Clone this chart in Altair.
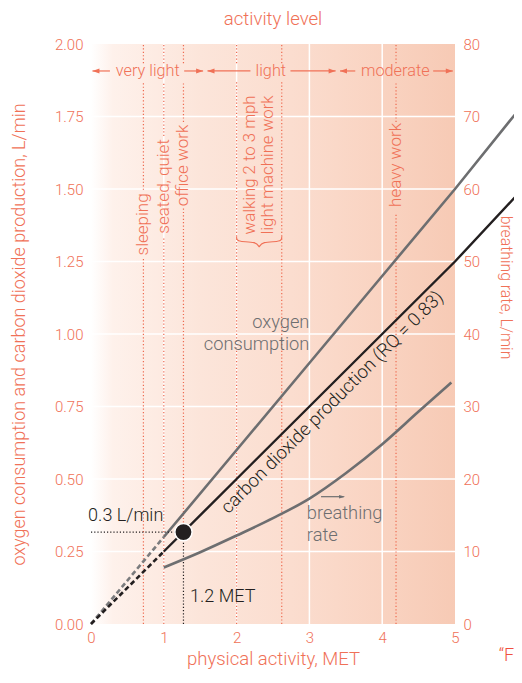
import altair as alt
import pandas as pd

FONT = "Roboto"
FW = 300
SALMON = "#F07157"
DARK = "#231F20"
GRAY = "#6D6E70"

# ---------------- data ----------------
x_ticks = [0, 1, 2, 3, 4, 5]
yl_ticks = [0, 0.25, 0.5, 0.75, 1.0, 1.25, 1.5, 1.75, 2.0]
yr_ticks = [0, 10, 20, 30, 40, 50, 60, 70, 80]
grid_x = [1, 2, 3, 4]
grid_y = [0.25, 0.5, 0.75, 1.0, 1.25, 1.5, 1.75]

o2_met = [0, 1, 2, 3, 4, 5, 5.93]
o2_lpm = [0, 0.30, 0.60, 0.90, 1.20, 1.50, 1.79]
co2_met = [0, 1, 2, 3, 4, 5, 5.93]
co2_lpm = [0, 0.25, 0.50, 0.75, 1.00, 1.25, 1.50]
br_met = [1.0, 1.5, 2.0, 2.5, 3.0, 3.5, 4.0, 4.5, 4.95]
br_lpm = [7.8, 9.9, 12.2, 14.6, 17.3, 20.8, 24.8, 29.3, 33.3]

rest_met = [1.27]
rest_lpm = [0.317]

act_names = ["sleeping", "seated, quiet", "office work", "heavy work"]
act_met = [0.72, 1.0, 1.27, 4.19]
act_label_y = [1.378, 1.509, 1.581, 1.583]
act_gap_lo = [1.266, 1.334, 1.434, 1.417]
act_gap_hi = [1.497, 1.683, 1.731, 1.731]
act_bottom = [0.0, 0.0, 0.35, 0.0]
walk_met = [2.0, 2.62]
walk_label = "walking 2 to 3 mph\nlight machine work"
walk_label_x = [2.185]
walk_label_y = [1.583]
band_row_y = 1.907
band_gap = [1.869, 1.934]

band_names = ["very light", "light", "moderate"]
band_start = [0.02, 1.60, 3.42]
band_end = [1.54, 3.36, 4.97]
band_label_x = [0.78, 2.47, 4.18]
band_gap_lo = [0.26, 2.19, 3.63]
band_gap_hi = [1.28, 2.74, 4.70]

brace_x = [2.0, 2.0, 2.04, 2.27, 2.31, 2.31, 2.35, 2.58, 2.62, 2.62]
brace_y = [1.336, 1.325, 1.318, 1.318, 1.300, 1.300, 1.318, 1.318, 1.325, 1.336]

# ---------------- scales / axes ----------------
xs = alt.Scale(domain=[0, 5], nice=False, zero=False)
yls = alt.Scale(domain=[0, 2], nice=False, zero=False)
yrs = alt.Scale(domain=[0, 80], nice=False, zero=False)

x_axis = alt.Axis(values=x_ticks, format="d", ticks=False, domain=False, grid=False,
                  labelColor=SALMON, labelFontSize=15, labelFontWeight=FW, labelPadding=6,
                  labelFlush=False, labelOverlap=False,
                  title="physical activity, MET", titleColor=SALMON, titleFontSize=18.5,
                  titleFontWeight=FW, titleX=182, titleY=34,
                  titleAlign="center", titleBaseline="middle")
yl_axis = alt.Axis(values=yl_ticks, format=".2f", ticks=False, domain=False, grid=False,
                   labelColor=SALMON, labelFontSize=15, labelFontWeight=FW, labelPadding=8,
                   labelOverlap=False,
                   title="oxygen consumption and carbon dioxide production, L/min",
                   titleColor=SALMON, titleFontSize=18, titleFontWeight=FW,
                   titleAngle=270, titleX=-72, titleY=290, titleAlign="center",
                   titleBaseline="middle")
yr_axis = alt.Axis(orient="right", values=yr_ticks, ticks=False, domain=False, grid=False,
                   labelColor=SALMON, labelFontSize=15, labelFontWeight=FW, labelPadding=8,
                   labelOverlap=False,
                   title="breathing rate, L/min", titleColor=SALMON, titleFontSize=15.8,
                   titleFontWeight=FW, titleAngle=90, titleX=50, titleY=243,
                   titleAlign="center", titleBaseline="middle")


def X(f="x"):
    return alt.X(f"{f}:Q", scale=xs, axis=x_axis)


def YL(f="y"):
    return alt.Y(f"{f}:Q", scale=yls, axis=yl_axis)


# ---------------- background ----------------
grad = alt.LinearGradient(
    gradient="linear",
    stops=[
        alt.GradientStop(offset=0.0, color="#FFFFFF"),
        alt.GradientStop(offset=0.06, color="#FEF1EB"),
        alt.GradientStop(offset=0.3, color="#FCE5DA"),
        alt.GradientStop(offset=0.55, color="#FBDDCF"),
        alt.GradientStop(offset=0.8, color="#F9D3C1"),
        alt.GradientStop(offset=1.0, color="#F7CAB5"),
    ],
    x1=0, x2=1, y1=0, y2=0,
)
bg = alt.Chart(pd.DataFrame({"x": [0], "x2": [5], "y": [0], "y2": [2]})).mark_rect(
    fill=grad).encode(x=X("x"), x2="x2:Q", y=YL("y"), y2="y2:Q")

gv = alt.Chart(pd.DataFrame({"x": grid_x, "y": [0] * 4, "y2": [2] * 4})).mark_rule(
    color="white", strokeWidth=1.5).encode(x=X(), y=YL(), y2="y2:Q")
gh = alt.Chart(pd.DataFrame({"y": grid_y, "x": [0] * 7, "x2": [5] * 7})).mark_rule(
    color="white", strokeWidth=1.5).encode(y=YL(), x=X(), x2="x2:Q")

# ---------------- dotted activity lines ----------------
segs = []
for m, lo, hi, b in zip(act_met, act_gap_lo, act_gap_hi, act_bottom):
    segs += [(m, b, lo), (m, hi, band_gap[0]), (m, band_gap[1], 2.0)]
for m in walk_met:
    segs += [(m, 0.0, band_gap[0]), (m, band_gap[1], 2.0)]
seg_df = pd.DataFrame(segs, columns=["x", "y", "y2"])
dots = alt.Chart(seg_df).mark_rule(color="#EE6A50", strokeWidth=1.2, strokeDash=[1.2, 2.2]).encode(
    x=X(), y=YL(), y2="y2:Q")

act_df = pd.DataFrame({"text": act_names, "x": act_met, "y": act_label_y})
act_txt = alt.Chart(act_df).mark_text(angle=270, align="center", baseline="middle", fontWeight=FW,
                                      fontSize=17, color=SALMON).encode(x=X(), y=YL(), text="text:N")
walk_txt = alt.Chart(pd.DataFrame({"text": [walk_label], "x": walk_label_x, "y": walk_label_y})).mark_text(
    angle=270, align="center", baseline="middle", fontSize=16.8, fontWeight=FW, color=SALMON,
    lineBreak="\n", lineHeight=18).encode(x=X(), y=YL(), text="text:N")
brace = alt.Chart(pd.DataFrame({"x": brace_x, "y": brace_y, "o": list(range(len(brace_x)))})).mark_line(
    color=SALMON, strokeWidth=1.1, interpolate="basis").encode(x=X(), y=YL(), order="o:Q")

# ---------------- band row ----------------
brows = []
for s, e, lo, hi in zip(band_start, band_end, band_gap_lo, band_gap_hi):
    brows += [(s, lo, band_row_y), (hi, e, band_row_y)]
band_rules = alt.Chart(pd.DataFrame(brows, columns=["x", "x2", "y"])).mark_rule(
    color=SALMON, strokeWidth=1.2).encode(x=X(), x2="x2:Q", y=YL())
band_left = alt.Chart(pd.DataFrame({"x": band_start, "y": [band_row_y] * 3})).mark_point(
    shape="M0,0L2,-0.7L2,0.7Z", filled=True, size=49, color=SALMON, opacity=1).encode(x=X(), y=YL())
band_right = alt.Chart(pd.DataFrame({"x": band_end, "y": [band_row_y] * 3})).mark_point(
    shape="M0,0L-2,-0.7L-2,0.7Z", filled=True, size=49, color=SALMON, opacity=1).encode(x=X(), y=YL())
band_txt = alt.Chart(pd.DataFrame({"text": band_names, "x": band_label_x, "y": [band_row_y] * 3})).mark_text(
    align="center", baseline="middle", fontSize=16.3, fontWeight=FW, color=SALMON).encode(
    x=X(), y=YL(), text="text:N")

# ---------------- lines ----------------
o2_df = pd.DataFrame({"x": o2_met, "y": o2_lpm})
co2_df = pd.DataFrame({"x": co2_met, "y": co2_lpm})
o2_dash = alt.Chart(o2_df.iloc[:2]).mark_line(color="#7A7B7D", strokeWidth=2.6, strokeDash=[5, 3]).encode(x=X(), y=YL())
o2_line = alt.Chart(o2_df.iloc[1:]).mark_line(color=GRAY, strokeWidth=2.6).encode(x=X(), y=YL())
co2_dash = alt.Chart(co2_df.iloc[:2]).mark_line(color=DARK, strokeWidth=2.6, strokeDash=[5, 3]).encode(x=X(), y=YL())
co2_line = alt.Chart(co2_df.iloc[1:]).mark_line(color=DARK, strokeWidth=2.4).encode(x=X(), y=YL())

rest_df = pd.DataFrame({"x": rest_met, "y": rest_lpm, "x0": [0.0], "y0": [0.0]})
drop_v = alt.Chart(rest_df).mark_rule(color=DARK, strokeWidth=1.2, strokeDash=[1.2, 2]).encode(
    x=X(), y=YL("y0"), y2="y:Q")
drop_h = alt.Chart(rest_df).mark_rule(color=DARK, strokeWidth=1.2, strokeDash=[1.2, 2]).encode(
    x=X("x0"), x2="x:Q", y=YL())
dot = alt.Chart(rest_df).mark_point(shape="circle", filled=True, size=300, color=DARK, opacity=1,
                                    stroke="white", strokeWidth=1.5).encode(x=X(), y=YL())

# ---------------- annotations ----------------
def label(texts, xs_, ys_, **kw):
    return alt.Chart(pd.DataFrame({"text": texts, "x": xs_, "y": ys_})).mark_text(
        fontWeight=FW, **kw).encode(x=X(), y=YL(), text="text:N")

lab_top = label(["activity level"], [2.5], [2.085], align="center", baseline="middle", fontSize=18.6, color=SALMON)
lab_03 = label(["0.3 L/min"], [-0.04], [0.372], align="left", baseline="middle", fontSize=18, color=DARK)
lab_12 = label(["1.2 MET"], [1.36], [0.093], align="left", baseline="middle", fontSize=18, color=DARK)
lab_o2 = label(["oxygen\nconsumption"], [3.0], [1.038], align="right", baseline="middle", fontSize=18.3,
               color=GRAY, lineBreak="\n", lineHeight=22)
lab_br = label(["breathing\nrate"], [2.965], [0.379], align="left", baseline="middle", fontSize=18.3,
               color=GRAY, lineBreak="\n", lineHeight=22)
lab_co2 = label(["carbon dioxide production (RQ = 0.83)"], [3.31], [0.765], align="center",
                baseline="middle", fontSize=18.5, color=DARK, angle=315)
lab_f = label(["\u201cF"], [5.6], [-0.11], align="left", baseline="middle", fontSize=18, color="#F0503F")

arr_df = pd.DataFrame({"x": [3.16], "x2": [3.47], "y": [0.439]})
br_arrow = alt.Chart(arr_df).mark_rule(color=GRAY, strokeWidth=1.2).encode(x=X(), x2="x2:Q", y=YL())
br_head = alt.Chart(pd.DataFrame({"x": [3.49], "y": [0.439]})).mark_point(
    shape="M0,0L-2,-0.6L-2,0.6Z", filled=True, size=36, color=GRAY, opacity=1).encode(x=X(), y=YL())

left = alt.layer(bg, gv, gh, dots, act_txt, walk_txt, brace, band_rules, band_left, band_right, band_txt,
                 o2_dash, o2_line, co2_dash, co2_line, drop_v, drop_h, lab_top, lab_03, lab_12, lab_o2,
                 lab_br, lab_co2, lab_f, br_arrow, br_head, dot)

br_df = pd.DataFrame({"x": br_met, "y": br_lpm})
right = alt.Chart(br_df).mark_line(color=GRAY, strokeWidth=2.6, interpolate="monotone").encode(
    x=X(), y=alt.Y("y:Q", scale=yrs, axis=yr_axis))

chart = alt.layer(left, right).resolve_scale(y="independent").properties(
    width=364, height=580,
    autosize=alt.AutoSizeParams(type="none"),
    padding={"left": 83, "top": 36, "right": 59, "bottom": 45},
).configure(font=FONT).configure_view(stroke=None)

chart.save("out.html", embed_options={"renderer": "svg", "actions": False})
